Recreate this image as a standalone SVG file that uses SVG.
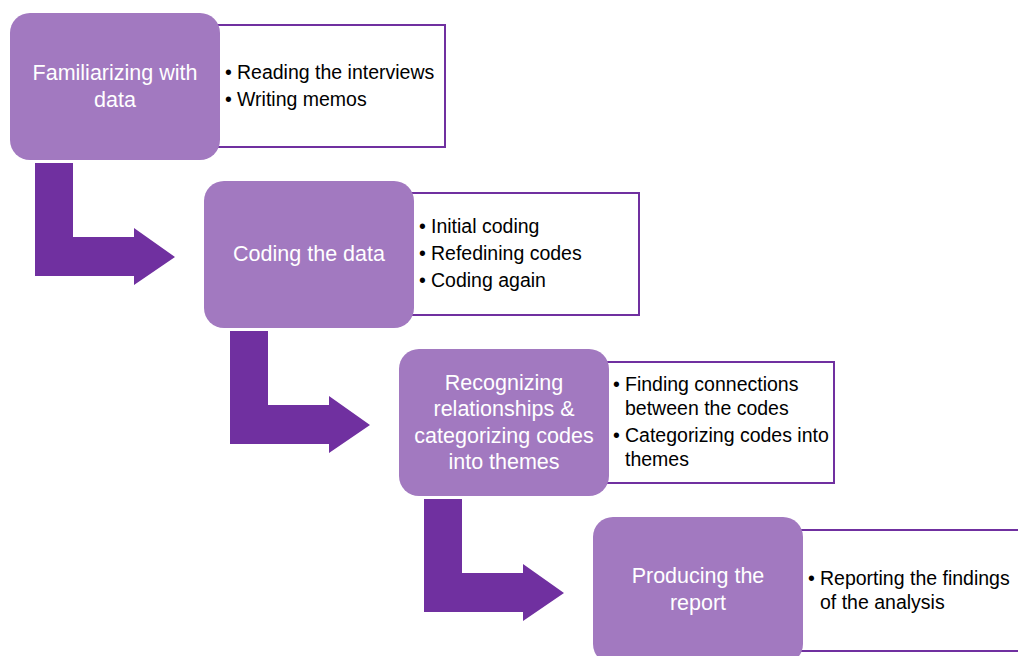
<svg xmlns="http://www.w3.org/2000/svg" width="1018" height="656" viewBox="0 0 1018 656">
  <style>
    .step { fill: #a279c0; }
    .detail { fill: #ffffff; stroke: #7030a0; stroke-width: 2; }
    .arrow { fill: #7030a0; }
    .title { font-family: "Liberation Sans", Arial, sans-serif; font-size: 21.5px; fill: #ffffff; text-anchor: middle; }
    .item { font-family: "Liberation Sans", Arial, sans-serif; font-size: 19.5px; fill: #000000; }
    .dot { font-family: "Liberation Sans", Arial, sans-serif; font-size: 19.5px; fill: #000000; }
  </style>
  <rect width="1018" height="656" fill="#ffffff"/>

  <!-- connectors: bent block arrows between steps -->
  <g id="connectors">
    <path class="arrow" d="M35,163 H73 V237 H134 V228 L175,257 L134,285 V276 H35 Z"/>
    <path class="arrow" d="M230,331 H268 V405 H329 V396 L370,425 L329,453 V444 H230 Z"/>
    <path class="arrow" d="M424,499 H462 V573 H523 V564 L564,593 L523,621 V612 H424 Z"/>
  </g>

  <g id="step1">
    <rect class="detail" x="217" y="25" width="228" height="122"/>
    <rect class="step" x="10" y="13" width="210" height="147" rx="20"/>
    <text class="title" x="115" y="80">Familiarizing with</text>
    <text class="title" x="115" y="107">data</text>
    <text class="dot" x="225" y="79">•</text>
    <text class="item" x="237" y="79">Reading the interviews</text>
    <text class="dot" x="225" y="106">•</text>
    <text class="item" x="237" y="106">Writing memos</text>
  </g>

  <g id="step2">
    <rect class="detail" x="411" y="193" width="228" height="122"/>
    <rect class="step" x="204" y="181" width="210" height="147" rx="20"/>
    <text class="title" x="309" y="261">Coding the data</text>
    <text class="dot" x="419" y="233">•</text>
    <text class="item" x="431" y="233">Initial coding</text>
    <text class="dot" x="419" y="260">•</text>
    <text class="item" x="431" y="260">Refedining codes</text>
    <text class="dot" x="419" y="287">•</text>
    <text class="item" x="431" y="287">Coding again</text>
  </g>

  <g id="step3">
    <rect class="detail" x="606" y="362" width="228" height="121"/>
    <rect class="step" x="399" y="349" width="210" height="147" rx="20"/>
    <text class="title" x="504" y="390">Recognizing</text>
    <text class="title" x="504" y="416">relationships &amp;</text>
    <text class="title" x="504" y="443">categorizing codes</text>
    <text class="title" x="504" y="469">into themes</text>
    <text class="dot" x="613" y="391">•</text>
    <text class="item" x="625" y="391">Finding connections</text>
    <text class="item" x="625" y="415">between the codes</text>
    <text class="dot" x="613" y="442">•</text>
    <text class="item" x="625" y="442">Categorizing codes into</text>
    <text class="item" x="625" y="466">themes</text>
  </g>

  <g id="step4">
    <rect class="detail" x="800" y="530" width="228" height="121"/>
    <rect class="step" x="593" y="517" width="210" height="147" rx="20"/>
    <text class="title" x="698" y="583">Producing the</text>
    <text class="title" x="698" y="610">report</text>
    <text class="dot" x="808" y="585">•</text>
    <text class="item" x="820" y="585">Reporting the findings</text>
    <text class="item" x="820" y="609">of the analysis</text>
  </g>
</svg>
